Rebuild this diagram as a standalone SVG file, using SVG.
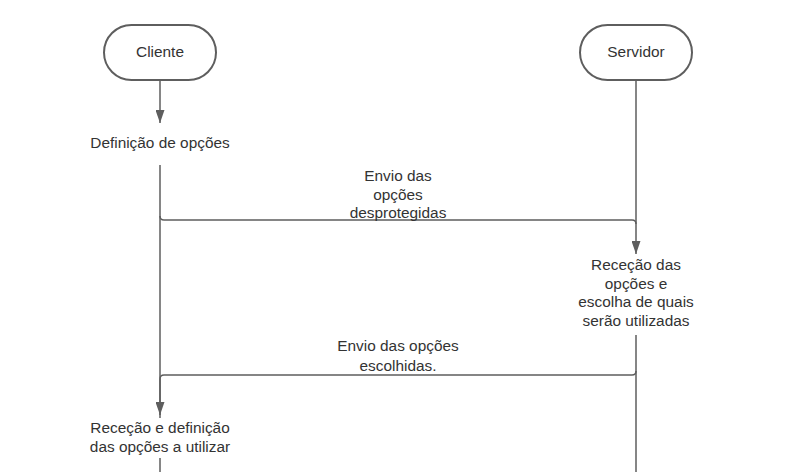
<svg xmlns="http://www.w3.org/2000/svg" width="800" height="472" viewBox="0 0 800 472">
<defs>
<style>
.node{fill:#fff;stroke:#5e5e5e;stroke-width:2}
.t{font-family:"Liberation Sans",Arial,sans-serif;font-size:15.4px;fill:#333;text-anchor:middle}
.c{fill:none;stroke:#5e5e5e;stroke-width:1.5}
</style>
<marker id="ah" viewBox="0 0 10 10" refX="10" refY="5" markerWidth="13" markerHeight="9" markerUnits="userSpaceOnUse" orient="auto" preserveAspectRatio="none">
<path d="M0,0 L10,5 L0,10 z" fill="#5e5e5e"/>
</marker>
</defs>
<rect width="800" height="472" fill="#fff"/>
<g id="connectors">
<path class="c" d="M160,80 V123" marker-end="url(#ah)"/>
<path class="c" d="M160,165 V472"/>
<path class="c" d="M160,216 Q160,220 164,220 H632 Q636,220 636,224 V254" marker-end="url(#ah)"/>
<path class="c" d="M636,80 V224"/>
<path class="c" d="M636,335 V472"/>
<path class="c" d="M636,371 Q636,375 632,375 H164 Q160,375 160,379 V415" marker-end="url(#ah)"/>
<text class="t" x="398" y="181">Envio das</text>
<text class="t" x="398" y="200">opções</text>
<text class="t" x="398" y="218">desprotegidas</text>
<text class="t" x="398" y="351">Envio das opções</text>
<text class="t" x="398" y="371">escolhidas.</text>
</g>
<g id="cliente">
<rect class="node" x="104" y="25" width="112" height="55" rx="27.5"/>
<text class="t" x="160" y="57">Cliente</text>
</g>
<g id="servidor">
<rect class="node" x="580" y="25" width="112" height="55" rx="27.5"/>
<text class="t" x="636" y="57">Servidor</text>
</g>
<g id="definicao">
<rect x="85" y="128" width="150" height="30" fill="#fff"/>
<text class="t" x="160" y="148">Definição de opções</text>
</g>
<g id="rececao-servidor">
<rect x="570" y="257" width="132" height="75" fill="#fff"/>
<text class="t" x="636" y="270">Receção das</text>
<text class="t" x="636" y="289">opções e</text>
<text class="t" x="636" y="307">escolha de quais</text>
<text class="t" x="636" y="326">serão utilizadas</text>
</g>
<g id="rececao-cliente">
<rect x="85" y="418" width="150" height="40" fill="#fff"/>
<text class="t" x="160" y="433">Receção e definição</text>
<text class="t" x="160" y="452">das opções a utilizar</text>
</g>
</svg>
